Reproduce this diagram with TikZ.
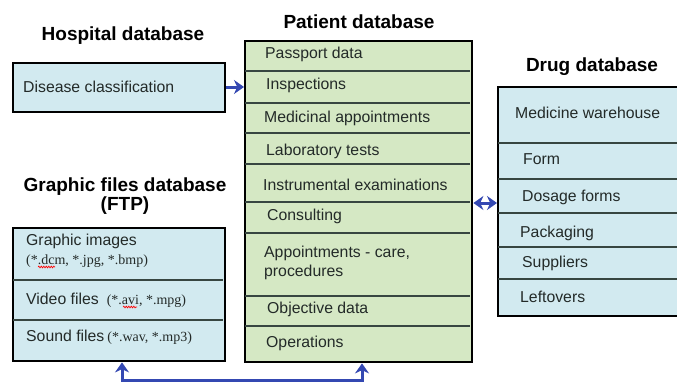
\documentclass[tikz,border=0pt]{standalone}
\usepackage{fontspec}
\setmainfont{Liberation Sans}
\newfontfamily\tms{Liberation Serif}
\usetikzlibrary{arrows.meta,decorations.pathmorphing}
\definecolor{pgreen}{RGB}{213,232,196}
\definecolor{pblue}{RGB}{210,234,240}
\definecolor{arrblue}{RGB}{52,72,178}
\definecolor{divline}{RGB}{55,70,65}
\definecolor{txt}{RGB}{35,42,40}
\newcommand{\smallserif}{\tms\fontsize{14}{17}\selectfont}
\tikzset{
  titletext/.style={font=\fontsize{19}{21}\selectfont\bfseries, text=black, inner sep=0pt, align=center},
  celltext/.style={font=\fontsize{15.8}{19}\selectfont, text=txt, inner sep=0pt, anchor=west, align=left},
  greenbox/.style={draw=black, line width=2.4pt, fill=pgreen, anchor=north west, inner sep=0pt},
  bluebox/.style={draw=black, line width=2.4pt, fill=pblue, anchor=north west, inner sep=0pt},
  divider/.style={draw=divline, line width=1.6pt},
  conn/.style={draw=arrblue, line width=3pt, -{Stealth[length=10pt,width=14pt]}},
  dconn/.style={draw=arrblue, line width=3pt, {Stealth[length=10pt,width=14pt]}-{Stealth[length=10pt,width=14pt]}},
  squiggle/.style={draw=red, line width=0.7pt, decorate, decoration={snake, amplitude=0.8pt, segment length=2.5pt}}
}
\begin{document}
\begin{tikzpicture}[x=1pt,y=-1pt]
\useasboundingbox (0,0) rectangle (677,383);
\clip (0,0) rectangle (677,383);
\fill[white] (0,0) rectangle (677,383);

% titles
\node[titletext] (thosp) at (123,36) {Hospital database};
\node[titletext] (tpat) at (359,22) {Patient database};
\node[titletext] (tdrug) at (592,67) {Drug database};
\node[titletext] (tgfx) at (125,187) {Graphic files database};
\node[titletext] (tftp) at (125,206) {(FTP)};

% hospital box
\node[bluebox, minimum width=212pt, minimum height=49pt] (dis) at (12,62) {};
\node[celltext] (tdis) at (23,87) {Disease classification};

% patient box
\node[greenbox, minimum width=227pt, minimum height=321pt] (pat) at (244,40) {};
\foreach \yy in {71,103,133,164,202,233,296,326} {
  \draw[divider] (245,\yy) -- (470,\yy);
}
\node[celltext] (p1) at (265,54) {Passport data};
\node[celltext] (p2) at (266,85) {Inspections};
\node[celltext] (p3) at (264,118) {Medicinal appointments};
\node[celltext] (p4) at (266,151) {Laboratory tests};
\node[celltext] (p5) at (263,185) {Instrumental examinations};
\node[celltext] (p6) at (267,216) {Consulting};
\node[celltext] (p7) at (264,263) {Appointments - care,\\procedures};
\node[celltext] (p8) at (267,309) {Objective data};
\node[celltext] (p9) at (266,343) {Operations};

% drug box
\node[bluebox, minimum width=200pt, minimum height=229pt] (drug) at (497,86) {};
\foreach \yy in {143,179,213,247,279} {
  \draw[divider] (498,\yy) -- (677,\yy);
}
\node[celltext] (d1) at (515,113) {Medicine warehouse};
\node[celltext] (d2) at (523,159) {Form};
\node[celltext] (d3) at (522,197) {Dosage forms};
\node[celltext] (d4) at (520,233) {Packaging};
\node[celltext] (d5) at (522,263) {Suppliers};
\node[celltext] (d6) at (520,297) {Leftovers};

% graphic files box
\node[bluebox, minimum width=212pt, minimum height=133pt] (gfx) at (12,227) {};
\draw[divider] (13,280) -- (223,280);
\draw[divider] (13,320) -- (223,320);
\node[celltext] (g1) at (26,251) {Graphic images\\{\smallserif(*.dcm, *.jpg, *.bmp)}};
\node[celltext] (g2) at (26,300) {Video files\hspace{8pt}{\smallserif(*.avi, *.mpg)}};
\node[celltext] (g3) at (26,337) {Sound files\hspace{3pt}{\smallserif(*.wav, *.mp3)}};
\draw[squiggle] (38,267) -- (55,267);
\draw[squiggle] (123,307) -- (137,307);

% connectors
\draw[conn] (dis.east |- 0,87) -- (pat.west |- 0,87);
\draw[dconn] (pat.east |- 0,203) -- (drug.west |- 0,203);
\coordinate (bl) at (122,380);
\coordinate (br) at (362,380);
\draw[conn] (bl) -- (bl |- gfx.south);
\draw[conn] (br) -- (br |- pat.south);
\draw[draw=arrblue, line width=3pt] ([xshift=-1.5pt]bl) -- ([xshift=1.5pt]br);
\end{tikzpicture}
\end{document}
